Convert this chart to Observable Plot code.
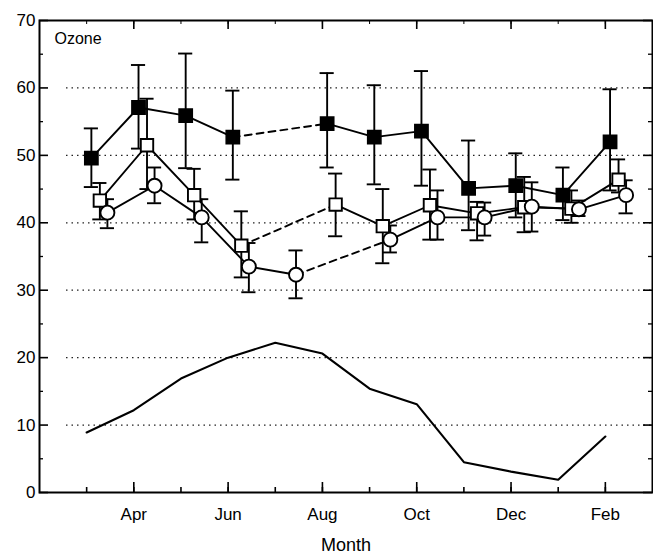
<!DOCTYPE html>
<html><head><meta charset="utf-8">
<script src="https://cdn.jsdelivr.net/npm/d3@7"></script>
<script src="https://cdn.jsdelivr.net/npm/@observablehq/plot@0.6"></script>
<style>body{margin:0;background:#fff} svg{display:block}</style>
</head><body><div id="chart"></div>
<script>
// Month index: Mar=1 ... Feb=12
const tickMonths = [2, 4, 6, 8, 10, 12];
const tickLabels = ["Apr", "Jun", "Aug", "Oct", "Dec", "Feb"];
const allMonths = [1, 2, 3, 4, 5, 6, 7, 8, 9, 10, 11, 12];
const yTicks = [0, 10, 20, 30, 40, 50, 60, 70];
const yMinor = [5, 15, 25, 35, 45, 55, 65];
const yGrid = [10, 20, 30, 40, 50, 60];

// Filled squares
const filledMonth = [1, 2, 3, 4, 6, 7, 8, 9, 10, 11, 12];
const filledMean = [49.6, 57.1, 55.9, 52.7, 54.7, 52.7, 53.6, 45.1, 45.5, 44.1, 52.0];
const filledLo = [45.3, 51.0, 48.1, 46.4, 48.2, 45.7, 45.5, 38.9, 40.8, 40.4, 44.8];
const filledHi = [54.0, 63.4, 65.1, 59.6, 62.2, 60.4, 62.5, 52.2, 50.3, 48.2, 59.8];

// Open squares
const openMonth = [1, 2, 3, 4, 6, 7, 8, 9, 10, 11, 12];
const openMean = [43.3, 51.5, 44.1, 36.6, 42.7, 39.5, 42.6, 41.4, 42.3, 42.1, 46.4];
const openLo = [40.5, 45.0, 40.5, 31.9, 38.0, 34.0, 37.5, 37.4, 38.6, 40.0, 44.5];
const openHi = [45.9, 58.4, 48.0, 41.7, 47.3, 45.0, 47.9, 43.1, 46.8, 44.8, 49.4];

// Open circles
const circleMonth = [1, 2, 3, 4, 5, 7, 8, 9, 10, 11, 12];
const circleMean = [41.5, 45.5, 40.8, 33.5, 32.3, 37.5, 40.8, 40.8, 42.4, 42.0, 44.1];
const circleLo = [39.2, 42.9, 37.1, 29.7, 28.8, 35.6, 37.5, 38.1, 38.7, 41.0, 41.4];
const circleHi = [43.5, 48.2, 43.5, 37.0, 35.9, 39.6, 44.8, 43.0, 46.0, 43.3, 46.3];

// Lower line (no markers)
const lowerMonth = [1, 2, 3, 4, 5, 6, 7, 8, 9, 10, 11, 12];
const lowerValue = [8.9, 12.2, 16.9, 20.0, 22.2, 20.6, 15.4, 13.1, 4.5, 3.1, 1.9, 8.3];

// ---- layout / style ----
const W = 653, H = 559, mL = 39, mR = 1, mT = 20, mB = 67;
const innerH = H - mT - mB, innerW = W - mL - mR;
const FONT = "Liberation Sans, Arial, Helvetica, sans-serif";

function build(name, months, mean, lo, hi, off) {
  return months.map((m, i) => ({series: name, month: m, x: m + off, mean: mean[i], lo: lo[i], hi: hi[i]}));
}
function solid(rows) {
  let seg = 0;
  return rows.map((r, i) => {
    if (i > 0 && r.month - rows[i - 1].month > 1) seg++;
    return {...r, seg: r.series + seg};
  });
}
function dashed(rows) {
  const out = [];
  rows.forEach((r, i) => {
    if (i > 0 && r.month - rows[i - 1].month > 1) {
      out.push({...rows[i - 1], seg: r.series + "d" + i}, {...r, seg: r.series + "d" + i});
    }
  });
  return out;
}

const filled = build("filled", filledMonth, filledMean, filledLo, filledHi, 0.1);
const open = build("open", openMonth, openMean, openLo, openHi, 0.28);
const circ = build("circle", circleMonth, circleMean, circleLo, circleHi, 0.44);
const all = [...filled, ...open, ...circ];
const solidRows = [...solid(filled), ...solid(open), ...solid(circ)];
const dashRows = [...dashed(filled), ...dashed(open), ...dashed(circ)];
const lower = lowerMonth.map((m, i) => ({x: m, v: lowerValue[i]}));
const capHalf = 0.15;
const SW = 1.9;

const chart = Plot.plot({
  width: W, height: H,
  marginLeft: mL, marginRight: mR, marginTop: mT, marginBottom: mB,
  style: {fontFamily: FONT, color: "black", background: "white"},
  x: {domain: [0, 13]},
  y: {domain: [0, 70]},
  marks: [
    Plot.ruleY(yGrid, {stroke: "#222", strokeWidth: 1.3, strokeDasharray: "1.5,4", insetLeft: 27}),
    // ticks inward
    Plot.ruleX(allMonths, {x: d => d, insetTop: innerH - 5, strokeWidth: 1.6}),
    Plot.ruleX(tickMonths, {x: d => d, insetTop: innerH - 10, strokeWidth: 1.6}),
    Plot.ruleX(tickMonths, {x: d => d, insetBottom: innerH - 9, strokeWidth: 1.6}),
    Plot.ruleX(allMonths, {x: d => d, insetBottom: innerH - 4, strokeWidth: 1}),
    Plot.ruleY(yMinor, {y: d => d, insetRight: innerW - 4, strokeWidth: 1.3}),
    Plot.ruleY(yTicks, {y: d => d, insetRight: innerW - 9, strokeWidth: 1.6}),
    Plot.ruleY(yMinor, {y: d => d, insetLeft: innerW - 4, strokeWidth: 1.3}),
    Plot.ruleY(yTicks, {y: d => d, insetLeft: innerW - 9, strokeWidth: 1.6}),
    Plot.frame({stroke: "black", strokeWidth: 2}),
    // lower line
    Plot.line(lower, {x: "x", y: "v", stroke: "black", strokeWidth: 2.1}),
    // series lines
    Plot.line(solidRows, {x: "x", y: "mean", z: "seg", stroke: "black", strokeWidth: SW}),
    Plot.line(dashRows, {x: "x", y: "mean", z: "seg", stroke: "black", strokeWidth: SW, strokeDasharray: "7,5"}),
    // error bars
    Plot.ruleX(all, {x: "x", y1: "lo", y2: "hi", stroke: "black", strokeWidth: SW}),
    Plot.ruleY(all, {y: "lo", x1: d => d.x - capHalf, x2: d => d.x + capHalf, stroke: "black", strokeWidth: SW}),
    Plot.ruleY(all, {y: "hi", x1: d => d.x - capHalf, x2: d => d.x + capHalf, stroke: "black", strokeWidth: SW}),
    // markers
    Plot.dot(filled, {x: "x", y: "mean", symbol: "square", r: 7.5, fill: "black", stroke: "black"}),
    Plot.dot(open, {x: "x", y: "mean", symbol: "square", r: 7, fill: "white", stroke: "black", strokeWidth: SW}),
    Plot.dot(circ, {x: "x", y: "mean", symbol: "circle", r: 7, fill: "white", stroke: "black", strokeWidth: SW}),
    // axes
    Plot.axisY(yTicks, {tickSize: 0, tickPadding: 4, fontSize: 17, fill: "black"}),
    Plot.axisX(tickMonths, {tickSize: 0, tickPadding: 15, fontSize: 17, fill: "black", tickFormat: d => tickLabels[tickMonths.indexOf(d)], label: null}),
    Plot.text(["Month"], {frameAnchor: "bottom", dy: 58, fontSize: 18, fill: "black"}),
    Plot.text(["Ozone"], {frameAnchor: "top-left", dx: 15, dy: 12, fontSize: 16, textAnchor: "start", fill: "black"})
  ]
});
document.getElementById("chart").append(chart);
</script>
</body></html>
